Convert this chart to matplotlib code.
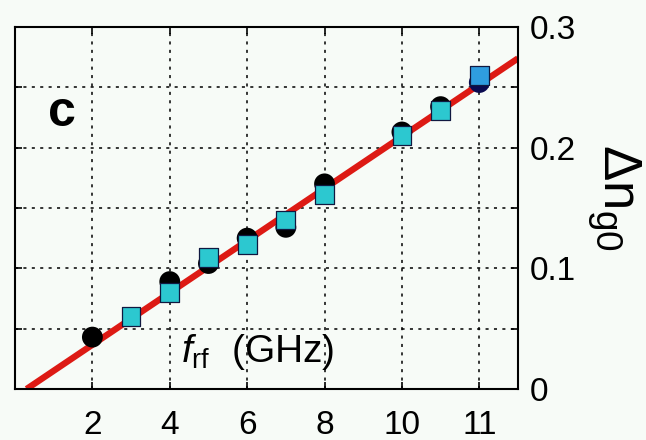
import matplotlib
matplotlib.use("Agg")
import matplotlib.pyplot as plt

plt.rcParams['font.family'] = ['Liberation Sans', 'DejaVu Sans']
plt.rcParams['mathtext.fontset'] = 'custom'
plt.rcParams['mathtext.rm'] = 'Liberation Sans'
plt.rcParams['mathtext.it'] = 'Liberation Sans:italic'
plt.rcParams['mathtext.bf'] = 'Liberation Sans:bold'

# data
freq_circ = [2, 4, 5, 6, 7, 8, 10, 11, 12]
dn_circ = [0.043, 0.089, 0.104, 0.125, 0.134, 0.170, 0.213, 0.234, 0.254]
freq_sq = [3, 4, 5, 6, 7, 8, 10, 11, 12]
dn_sq = [0.060, 0.080, 0.109, 0.120, 0.140, 0.161, 0.210, 0.231, 0.260]
fit_x = [0.3, 13.0]
fit_y = [0.0, 0.274]

xtick_pos = [2, 4, 6, 8, 10, 12]
xtick_lab = ['2', '4', '6', '8', '10', '11']
ytick_pos = [0, 0.05, 0.1, 0.15, 0.2, 0.25, 0.3]
ytick_lab = ['0', '', '0.1', '', '0.2', '', '0.3']

bg = '#f7fbf7'
fig = plt.figure(figsize=(6.46, 4.40), dpi=100, facecolor=bg)
ax = fig.add_axes([15/646, 51/440, 503/646, 362/440])
ax.set_facecolor(bg)

ax.plot(fit_x, fit_y, color='#dd1a14', lw=4.6, zorder=2, solid_capstyle='butt')

circ_cols = ['black'] * (len(freq_circ) - 1) + ['#0a0a50']
ax.scatter(freq_circ, dn_circ, s=15**2, c=circ_cols, marker='o', zorder=3, linewidths=0)
sq_cols = ['#2cc8d0'] * (len(freq_sq) - 1) + ['#2f9de0']
ax.scatter(freq_sq, dn_sq, s=13.5**2, c=sq_cols, marker='s', zorder=4,
           edgecolors='#101840', linewidths=0.9)

ax.set_xlim(0, 13)
ax.set_ylim(0, 0.3)
ax.set_xticks(xtick_pos)
ax.set_xticklabels(xtick_lab, fontsize=24)
ax.set_yticks(ytick_pos)
ax.set_yticklabels(ytick_lab, fontsize=24)
ax.yaxis.tick_right()
ax.tick_params(axis='both', direction='in', length=5, width=1.2,
               top=True, bottom=True, left=True, right=True)
ax.tick_params(axis='x', pad=15)
ax.tick_params(axis='y', pad=8.5)
ax.grid(True, color='black', linestyle=(0, (2, 3.5)), linewidth=1.1)
ax.set_axisbelow(True)
for sp in ax.spines.values():
    sp.set_linewidth(1.5)

ax.text(1.21, 0.229, 'c', fontsize=36, fontweight='bold', ha='center', va='center')
ax.text(4.3, 0.0224, r'$f_{\mathrm{rf}}$  (GHz)', fontsize=28, ha='left', va='baseline')
ax.text(1.19, 0.53, r'$\Delta \mathrm{n}_{\mathrm{g0}}$', fontsize=38, rotation=-90,
        ha='center', va='center', transform=ax.transAxes)

fig.savefig('out.png', dpi=100, facecolor=bg)
